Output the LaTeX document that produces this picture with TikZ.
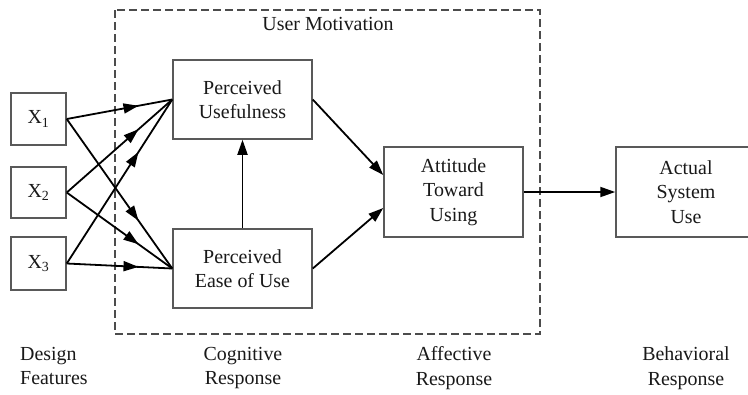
\documentclass[tikz,border=0pt]{standalone}
\usepackage{fontspec}
\setmainfont{Liberation Serif}
\usetikzlibrary{arrows.meta,decorations.markings,calc}

\begin{document}
\begin{tikzpicture}[x=1bp,y=-1bp,
  every node/.style={font=\fontsize{20}{24.5}\selectfont, text=black!90},
  block/.style={draw=black!65, line width=1.5bp, fill=white, align=center, inner sep=0},
  conn/.style={draw=black, line width=1.8bp},
  midarrow/.style={conn, postaction={decorate},
    decoration={markings, mark=at position #1 with {\arrow{Triangle[length=15bp,width=10bp]}}}},
  midarrow/.default=0.68,
  endarrow/.style={conn, -{Triangle[length=15bp,width=10bp]}},
  lbl/.style={align=center, inner sep=0}
]
\useasboundingbox (0,0) rectangle (748,394);
\clip (0,0) rectangle (748,394);

% motivation frame
\draw[black!70, line width=1.4bp, dash pattern=on 8bp off 4bp] (115,10) rectangle (540,334);
\node[anchor=base, inner sep=0] (um) at (328,30) {User Motivation};

% design features
\node[block, minimum width=55bp, minimum height=52bp] (x1) at (38.5,119) {X\textsubscript{1}};
\node[block, minimum width=55bp, minimum height=51bp] (x2) at (38.5,192.5) {X\textsubscript{2}};
\node[block, minimum width=55bp, minimum height=53bp] (x3) at (38.5,263.5) {X\textsubscript{3}};

% constructs
\node[block, minimum width=139bp, minimum height=79bp] (pu) at (242.5,99.5) {Perceived\\Usefulness};
\node[block, minimum width=139bp, minimum height=79bp] (peu) at (242.5,268.5) {Perceived\\Ease of Use};
\node[block, minimum width=139bp, minimum height=90bp] (atu) at (453.5,192) {Attitude\\Toward\\Using};
\node[block, minimum width=140bp, minimum height=90bp] (asu) at (686,192) {Actual\\System\\Use};

% connectors
\coordinate (atuin1) at ($(atu.west)+(0,-17)$);
\coordinate (atuin2) at ($(atu.west)+(0,16)$);
\foreach \s in {x1,x2,x3}{
  \draw[midarrow] (\s.east) -- (pu.west);
  \draw[midarrow] (\s.east) -- (peu.west);
}
\draw[endarrow] (peu.north) -- (pu.south);
\draw[endarrow] (pu.east) -- (atuin1);
\draw[endarrow] (peu.east) -- (atuin2);
\draw[endarrow] (atu.east) -- (asu.west);

% stage labels
\node[lbl, align=left, anchor=west] (l1) at (20,366) {Design\\Features};
\node[lbl] (l2) at (243,368) {Cognitive\\Response};
\node[lbl] (l3) at (454,368) {Affective\\Response};
\node[lbl] (l4) at (686,368) {Behavioral\\Response};
\end{tikzpicture}
\end{document}
